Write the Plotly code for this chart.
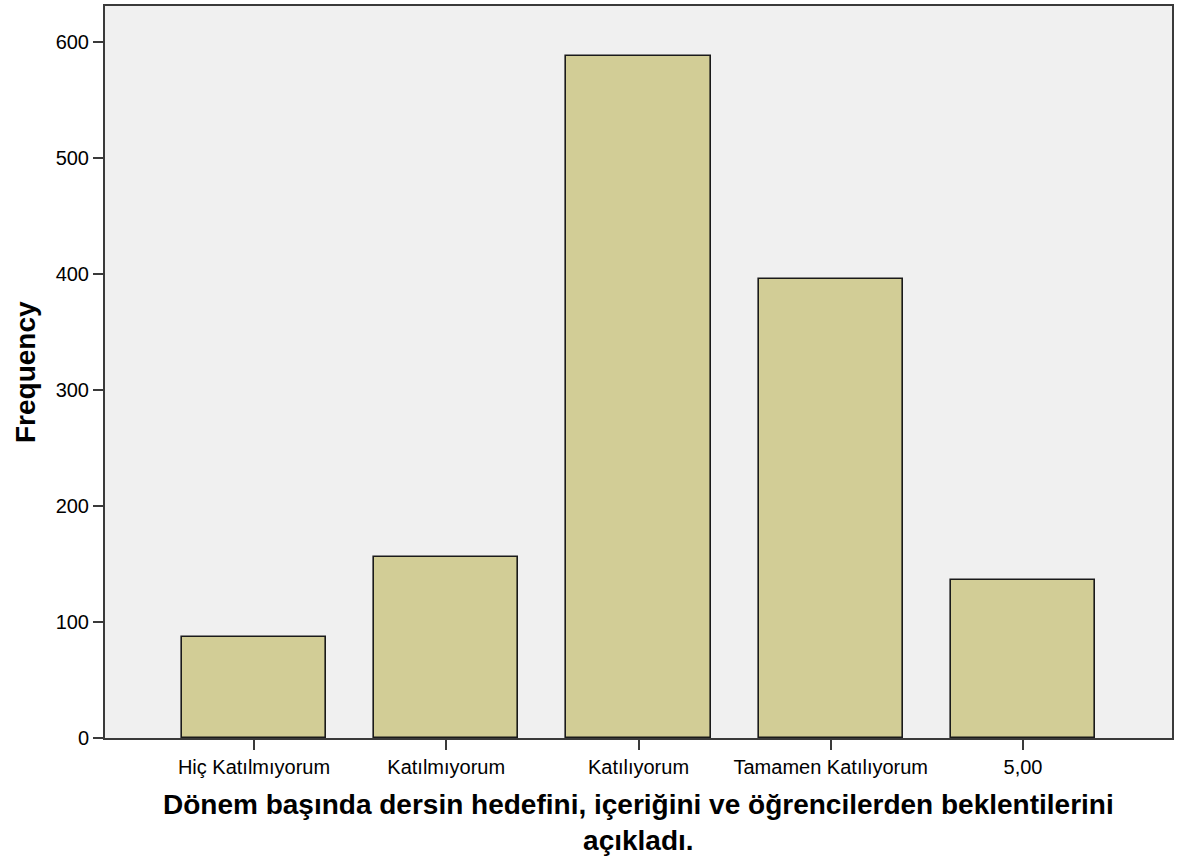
import plotly.graph_objects as go

categories = ["Hiç Katılmıyorum", "Katılmıyorum", "Katılıyorum", "Tamamen Katılıyorum", "5,00"]
frequencies = [87, 156, 588, 396, 136]
y_ticks = [0, 100, 200, 300, 400, 500, 600]
x_title_lines = ["Dönem başında dersin hedefini, içeriğini ve öğrencilerden beklentilerini", "açıkladı."]
y_title = "Frequency"

FONT = "Liberation Sans, Arial, sans-serif"
AXIS = "#3a3a3a"

fig = go.Figure(
    go.Bar(
        x=categories,
        y=frequencies,
        width=0.75,
        marker=dict(color="#d2cd96", line=dict(color="#1a1a1a", width=1.6)),
        hoverinfo="x+y",
    )
)

fig.update_layout(
    width=1181,
    height=857,
    margin=dict(l=105, r=9, t=6, b=119, autoexpand=False),
    paper_bgcolor="white",
    plot_bgcolor="#f0f0f0",
    font=dict(family=FONT, color="black", size=20),
    showlegend=False,
    bargap=0,
)

fig.update_xaxes(
    type="category",
    range=[-0.775, 4.775],
    showline=True, linecolor=AXIS, linewidth=2, mirror=True,
    ticks="outside", ticklen=10, tickwidth=2, tickcolor=AXIS,
    tickfont=dict(size=20, family=FONT, color="black"),
    showgrid=False, zeroline=False,
)

fig.update_yaxes(
    range=[0, 631],
    tickvals=y_ticks,
    showline=True, linecolor=AXIS, linewidth=2, mirror=True,
    ticks="outside", ticklen=10, tickwidth=2, tickcolor=AXIS,
    tickfont=dict(size=20, family=FONT, color="black"),
    showgrid=False, zeroline=False,
)

# y-axis title
fig.add_annotation(
    text="<b>" + y_title + "</b>",
    xref="paper", yref="paper", x=0, y=0.5,
    xanchor="center", yanchor="middle", xshift=-80,
    textangle=-90, showarrow=False,
    font=dict(size=28, family=FONT, color="black"),
)

# x-axis title (two lines)
fig.add_annotation(
    text="<br>".join("<b>" + t + "</b>" for t in x_title_lines),
    xref="paper", yref="paper", x=0.5, y=0,
    xanchor="center", yanchor="middle", yshift=-84,
    showarrow=False,
    font=dict(size=28, family=FONT, color="black"),
)

fig.write_html(
    "out.html",
    config={"displayModeBar": False},
    post_script="document.body.style.margin='0';",
)
